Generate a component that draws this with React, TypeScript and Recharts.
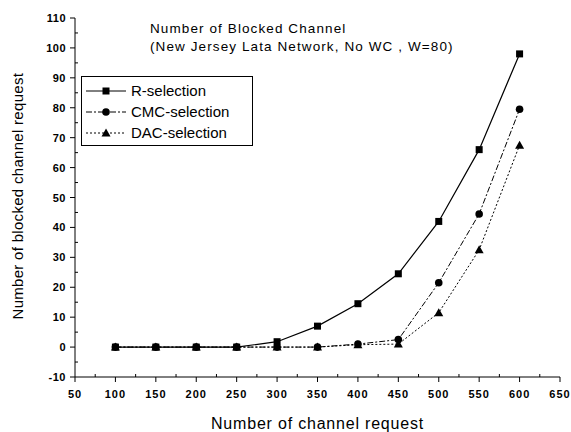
import React from 'react';
import { LineChart, Line, XAxis, YAxis } from 'recharts';

const requests = [100, 150, 200, 250, 300, 350, 400, 450, 500, 550, 600];
const rSelection = [0, 0, 0, 0, 1.8, 7, 14.5, 24.5, 42, 66, 98];
const cmcSelection = [0, 0, 0, 0, 0, 0, 1, 2.5, 21.5, 44.5, 79.5];
const dacSelection = [0, 0, 0, 0, 0, 0, 0.8, 1, 11.5, 32.5, 67.5];

const xTicks = [50, 100, 150, 200, 250, 300, 350, 400, 450, 500, 550, 600, 650];
const yTicks = [-10, 0, 10, 20, 30, 40, 50, 60, 70, 80, 90, 100, 110];

const data = requests.map((n, i) => ({
  n,
  r: rSelection[i],
  cmc: cmcSelection[i],
  dac: dacSelection[i],
}));

const FONT = '"Liberation Sans", Arial, sans-serif';

// minor ticks halfway between the labelled ones
const xAll = xTicks.flatMap((t, i) => (i < xTicks.length - 1 ? [t, t + 25] : [t]));
const yAll = yTicks.flatMap((t, i) => (i < yTicks.length - 1 ? [t, t + 5] : [t]));

const XTick = (props: any) => {
  const { x, y, payload } = props;
  const major = xTicks.includes(payload.value);
  return (
    <g>
      <line x1={x} x2={x} y1={major ? y : y - 3} y2={major ? y + 5 : y} stroke="#000" />
      {major && (
        <text
          x={x}
          y={y + 21}
          textAnchor="middle"
          fontSize={11}
          fontWeight="bold"
          letterSpacing={1}
          fontFamily={FONT}
          fill="#000"
        >
          {payload.value}
        </text>
      )}
    </g>
  );
};

const YTick = (props: any) => {
  const { x, y, payload } = props;
  const major = yTicks.includes(payload.value);
  return (
    <g>
      <line x1={x - (major ? 5 : 0)} x2={x + (major ? 0 : 3)} y1={y} y2={y} stroke="#000" />
      {major && (
        <text
          x={x - 9}
          y={y + 4}
          textAnchor="end"
          fontSize={11}
          fontWeight="bold"
          letterSpacing={0.5}
          fontFamily={FONT}
          fill="#000"
        >
          {payload.value}
        </text>
      )}
    </g>
  );
};

const square = (p: any) => (
  <rect key={p.index} x={p.cx - 3.5} y={p.cy - 3.5} width={7} height={7} fill="#000" />
);
const circle = (p: any) => <circle key={p.index} cx={p.cx} cy={p.cy} r={3.8} fill="#000" />;
const triangle = (p: any) => (
  <path
    key={p.index}
    d={`M${p.cx},${p.cy - 4.5} L${p.cx + 4.5},${p.cy + 3.5} L${p.cx - 4.5},${p.cy + 3.5} Z`}
    fill="#000"
  />
);

const legendItems = [
  { name: 'R-selection', dash: undefined, marker: 'square' },
  { name: 'CMC-selection', dash: '6 2 2 2', marker: 'circle' },
  { name: 'DAC-selection', dash: '2 2', marker: 'triangle' },
];

const LegendBox = () => (
  <div
    style={{
      position: 'absolute',
      left: 81,
      top: 76,
      border: '1px solid #000',
      width: 172,
      height: 70,
      background: '#fff',
      fontFamily: FONT,
      fontSize: 15,
      paddingTop: 3,
      boxSizing: 'border-box',
      zIndex: 2,
    }}
  >
    {legendItems.map((it) => (
      <div key={it.name} style={{ display: 'flex', alignItems: 'center', height: 21 }}>
        <svg width={48} height={14}>
          <line x1={4} x2={44} y1={7} y2={7} stroke="#000" strokeDasharray={it.dash} />
          {it.marker === 'square' && <rect x={20.5} y={3.5} width={7} height={7} fill="#000" />}
          {it.marker === 'circle' && <circle cx={24} cy={7} r={3.8} fill="#000" />}
          {it.marker === 'triangle' && <path d="M24,2.5 L28.5,10.5 L19.5,10.5 Z" fill="#000" />}
        </svg>
        <span style={{ marginLeft: 1 }}>{it.name}</span>
      </div>
    ))}
  </div>
);

export default function App() {
  return (
    <div style={{ position: 'absolute', left: 0, top: 0, width: 571, height: 432, background: '#fff' }}>
      <div
        style={{
          position: 'absolute',
          left: 150,
          top: 20,
          fontFamily: FONT,
          fontSize: 13.5,
          lineHeight: '18px',
          letterSpacing: 1.1,
          zIndex: 2,
        }}
      >
        Number of Blocked Channel
        <br />
        (New Jersey Lata Network, No WC , W=80)
      </div>
      <LegendBox />
      <LineChart width={571} height={432} data={data} margin={{ top: 18, right: 11, bottom: 0, left: 0 }}>
        <XAxis
          dataKey="n"
          type="number"
          domain={[50, 650]}
          ticks={xAll}
          interval={0}
          tick={<XTick />}
          tickSize={0}
          tickMargin={0}
          height={55}
          stroke="#000"
          label={{
            value: 'Number of channel request',
            position: 'insideBottom',
            offset: 3,
            fontSize: 16,
            letterSpacing: 0.8,
            fontFamily: FONT,
            fill: '#000',
          }}
        />
        <YAxis
          type="number"
          domain={[-10, 110]}
          ticks={yAll}
          interval={0}
          tick={<YTick />}
          tickSize={0}
          tickMargin={0}
          width={75}
          stroke="#000"
          label={{
            value: 'Number of blocked channel request',
            angle: -90,
            position: 'insideLeft',
            offset: 18,
            dy: 122,
            fontSize: 15,
            letterSpacing: 0.3,
            fontFamily: FONT,
            fill: '#000',
          }}
        />
        <Line
          type="linear"
          dataKey="r"
          stroke="#000"
          strokeWidth={1.2}
          dot={square}
          activeDot={false}
          isAnimationActive={false}
        />
        <Line
          type="linear"
          dataKey="cmc"
          stroke="#000"
          strokeWidth={1}
          strokeDasharray="6 2 2 2"
          dot={circle}
          activeDot={false}
          isAnimationActive={false}
        />
        <Line
          type="linear"
          dataKey="dac"
          stroke="#000"
          strokeWidth={1}
          strokeDasharray="2 2"
          dot={triangle}
          activeDot={false}
          isAnimationActive={false}
        />
      </LineChart>
    </div>
  );
}
